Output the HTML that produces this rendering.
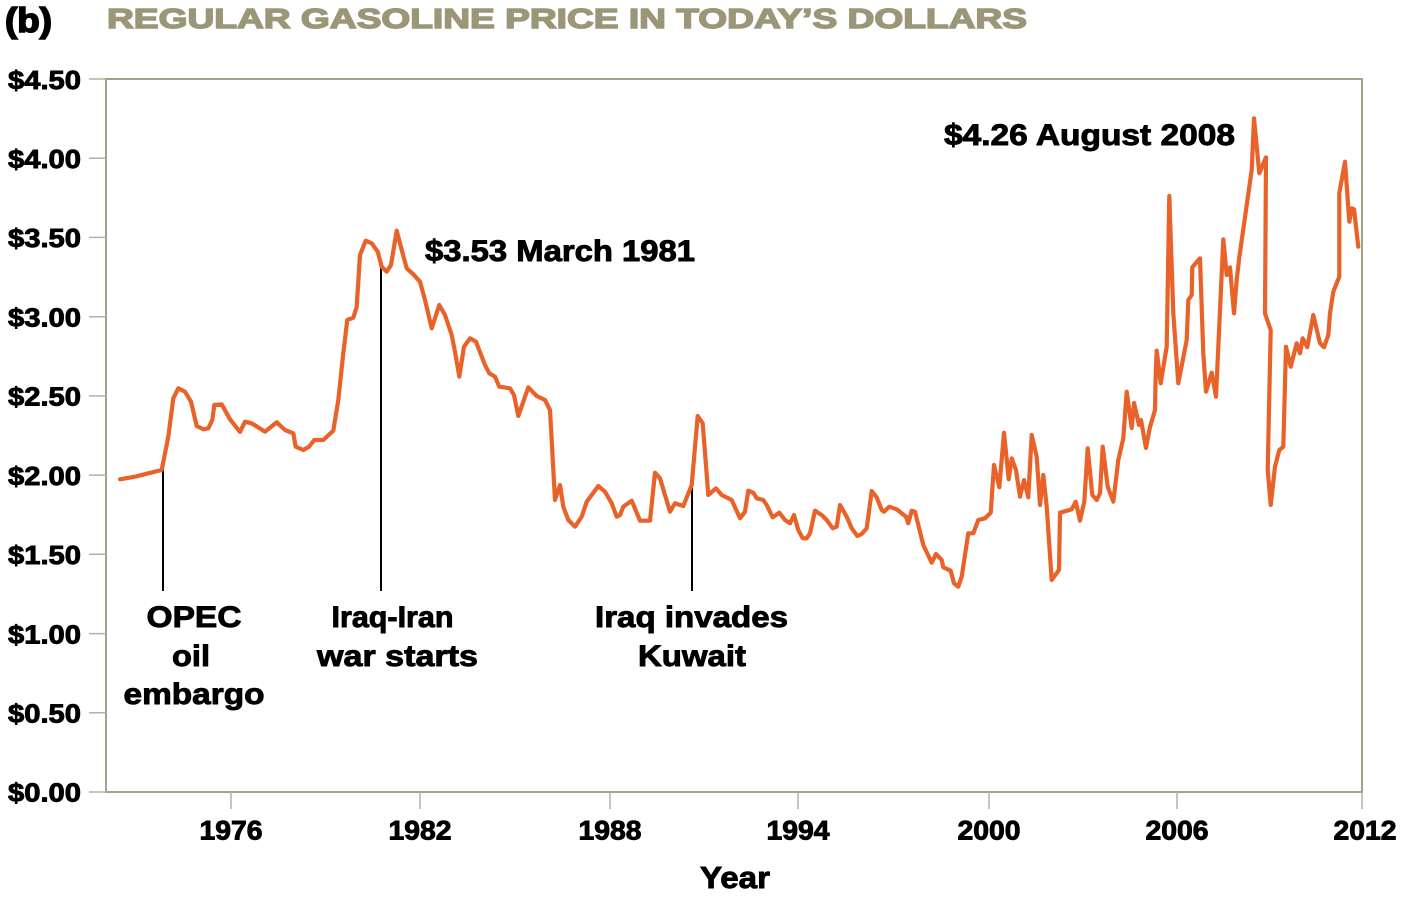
<!DOCTYPE html>
<html>
<head>
<meta charset="utf-8">
<style>
  html, body { margin: 0; padding: 0; background: #ffffff; }
  svg { display: block; }
  text { font-family: "Liberation Sans", Arial, sans-serif; font-weight: bold; fill: #000; }
  .heavy { stroke: #000; stroke-width: 0.9; paint-order: stroke; }
</style>
</head>
<body>
<svg width="1402" height="898" viewBox="0 0 1402 898" xmlns="http://www.w3.org/2000/svg">
  <rect x="0" y="0" width="1402" height="898" fill="#ffffff"/>

  <!-- Header -->
  <text class="heavy" x="5" y="32" font-size="34" style="stroke-width:1.6" textLength="47" lengthAdjust="spacingAndGlyphs">(b)</text>
  <text x="107" y="28" font-size="28" style="fill:#9c9678;stroke:#9c9678;stroke-width:1.4" textLength="920" lengthAdjust="spacingAndGlyphs">REGULAR GASOLINE PRICE IN TODAY’S DOLLARS</text>

  <!-- Axis frame -->
  <rect x="106" y="79" width="1256" height="713" fill="none" stroke="#a3a28b" stroke-width="2"/>

  <!-- Y ticks -->
  <g stroke="#b4b3a2" stroke-width="1.5">
    <line x1="89" y1="79" x2="106" y2="79"/>
    <line x1="89" y1="158.2" x2="106" y2="158.2"/>
    <line x1="89" y1="237.4" x2="106" y2="237.4"/>
    <line x1="89" y1="316.7" x2="106" y2="316.7"/>
    <line x1="89" y1="395.9" x2="106" y2="395.9"/>
    <line x1="89" y1="475.1" x2="106" y2="475.1"/>
    <line x1="89" y1="554.3" x2="106" y2="554.3"/>
    <line x1="89" y1="633.6" x2="106" y2="633.6"/>
    <line x1="89" y1="712.8" x2="106" y2="712.8"/>
    <line x1="89" y1="792" x2="106" y2="792"/>
  </g>
  <!-- X ticks -->
  <g stroke="#b4b3a2" stroke-width="1.5">
    <line x1="231" y1="792" x2="231" y2="809"/>
    <line x1="420" y1="792" x2="420" y2="809"/>
    <line x1="610" y1="792" x2="610" y2="809"/>
    <line x1="798" y1="792" x2="798" y2="809"/>
    <line x1="989" y1="792" x2="989" y2="809"/>
    <line x1="1177" y1="792" x2="1177" y2="809"/>
    <line x1="1362" y1="792" x2="1362" y2="809"/>
  </g>

  <!-- Y labels -->
  <g font-size="26" text-anchor="end" class="heavy">
    <text x="81" y="89" textLength="73" lengthAdjust="spacingAndGlyphs">$4.50</text>
    <text x="81" y="168" textLength="73" lengthAdjust="spacingAndGlyphs">$4.00</text>
    <text x="81" y="247" textLength="73" lengthAdjust="spacingAndGlyphs">$3.50</text>
    <text x="81" y="326.5" textLength="73" lengthAdjust="spacingAndGlyphs">$3.00</text>
    <text x="81" y="405.5" textLength="73" lengthAdjust="spacingAndGlyphs">$2.50</text>
    <text x="81" y="485" textLength="73" lengthAdjust="spacingAndGlyphs">$2.00</text>
    <text x="81" y="564" textLength="73" lengthAdjust="spacingAndGlyphs">$1.50</text>
    <text x="81" y="643.5" textLength="73" lengthAdjust="spacingAndGlyphs">$1.00</text>
    <text x="81" y="722.5" textLength="73" lengthAdjust="spacingAndGlyphs">$0.50</text>
    <text x="81" y="801.7" textLength="73" lengthAdjust="spacingAndGlyphs">$0.00</text>
  </g>

  <!-- X labels -->
  <g font-size="26.5" text-anchor="middle" class="heavy">
    <text x="231" y="839.5" textLength="63" lengthAdjust="spacingAndGlyphs">1976</text>
    <text x="420" y="839.5" textLength="63" lengthAdjust="spacingAndGlyphs">1982</text>
    <text x="610" y="839.5" textLength="63" lengthAdjust="spacingAndGlyphs">1988</text>
    <text x="798" y="839.5" textLength="63" lengthAdjust="spacingAndGlyphs">1994</text>
    <text x="989" y="839.5" textLength="63" lengthAdjust="spacingAndGlyphs">2000</text>
    <text x="1177" y="839.5" textLength="63" lengthAdjust="spacingAndGlyphs">2006</text>
    <text x="1365" y="839.5" textLength="63" lengthAdjust="spacingAndGlyphs">2012</text>
  </g>
  <text class="heavy" x="735" y="888" font-size="31" text-anchor="middle" textLength="70" lengthAdjust="spacingAndGlyphs">Year</text>

  <!-- Annotation lines -->
  <g stroke="#000" stroke-width="2">
    <line x1="163" y1="467" x2="163" y2="591"/>
    <line x1="381" y1="266" x2="381" y2="591"/>
    <line x1="692" y1="484" x2="692" y2="591"/>
  </g>

  <!-- Annotation text -->
  <g font-size="30" text-anchor="middle" class="heavy">
    <text x="194" y="627" textLength="95" lengthAdjust="spacingAndGlyphs">OPEC</text>
    <text x="191" y="666" textLength="38" lengthAdjust="spacingAndGlyphs">oil</text>
    <text x="194" y="704" textLength="141" lengthAdjust="spacingAndGlyphs">embargo</text>
    <text x="392.5" y="627" textLength="122" lengthAdjust="spacingAndGlyphs">Iraq-Iran</text>
    <text x="397.5" y="666" textLength="161" lengthAdjust="spacingAndGlyphs">war starts</text>
    <text x="691.5" y="627" textLength="193" lengthAdjust="spacingAndGlyphs">Iraq invades</text>
    <text x="692" y="666" textLength="108" lengthAdjust="spacingAndGlyphs">Kuwait</text>
  </g>
  <text class="heavy" x="425" y="261" font-size="29.5" textLength="270" lengthAdjust="spacingAndGlyphs">$3.53 March 1981</text>
  <text class="heavy" x="944" y="145" font-size="29.5" textLength="291" lengthAdjust="spacingAndGlyphs">$4.26 August 2008</text>

  <!-- Price series -->
  <polyline fill="none" stroke="#e8622a" stroke-width="4.2" stroke-linejoin="round" stroke-linecap="round"
    points="120,479.3 135,476.7 148.3,473.3 161.7,470 168.3,436.7 173.3,398.3 178.3,388.3 185,391.7 191,401.7 196.7,426 203.3,429.3 208.3,428.3 212.3,420 214.3,405 221.7,404.3 230,419.3 240,432 245,421.7 251.7,423.3 265,431.7 276.7,422.3 285,430 293.3,433.3 295.7,446.7 303.3,450 309,446.7 314.3,440 323.3,440 333.3,430.7 338.3,400 343.3,353.3 347.3,320 353.3,317.7 356.7,306.7 360,255 365.7,240.7 371.7,243.3 377.7,251.7 381.7,266.7 386.7,271.7 391,265 396.7,230.7 401.7,250 406.7,268.3 413.3,274.3 420,281.7 425,300 431.7,328.3 439.3,305 445,315 451.7,335 455,351.7 459.3,376.7 464,346.7 470,338.3 476,341.7 485,365 489.3,373.3 495,376.7 499.3,386.7 510,388.3 514,395 518.3,416 528.3,387.3 536.7,396 545,400 550,410 555,500 560,485 563.3,506.7 568.3,520 575,526.7 581.7,516.7 586.7,501.7 598.3,486 605,491.7 611.7,503.3 616.7,516.7 620,515 623.3,506.7 631.7,500.7 640,520.7 650,520.7 655,472.7 660,478.3 670,511.7 675,503.3 683.3,506 691.7,485 697.7,416 702.7,423.3 708.3,495 716,488.3 721.7,495 731.7,500 740,518.3 745,511.7 748.3,490.7 753.3,492.7 756.7,498.3 763.3,500 766.7,505 772.7,517.3 779.3,512.7 785,520 790,523.3 794,515 798.3,530 802.7,538.3 806.7,538.3 810,533.3 815,510.7 821.7,515 826.7,520 832.7,528.3 836.7,526.7 840,505 846.7,516.7 851.7,528.3 857.3,536 861.7,534 866.7,528.3 871.7,491 876.7,497.3 881.7,510 884,511.7 889.3,506.7 896.7,509.3 906,516.7 908.3,523.3 911.7,510.7 915,511.7 923.3,545 931.7,562.7 936,554 941.7,560 943.3,567.3 950.7,570.7 954,583.3 958.3,586.7 961.7,576.7 968.3,533.3 973.3,533.3 978.3,520 985,518.3 990.7,512.7 994,465 999.3,487.3 1004,432.7 1008.7,479.3 1011.7,458.3 1016,470 1020,496.7 1024,480 1028.3,497.3 1031.7,435 1036.7,456.7 1040,505 1043.3,475 1046.7,506.7 1051.7,580 1059,570 1060,512.7 1071.7,509.3 1075.7,501.7 1080,520.7 1084.3,501.7 1087.7,448.3 1092.3,495 1096.7,500 1100,493.3 1102.7,446.7 1107.7,486.7 1113.3,501.7 1118.3,460 1123.3,438.3 1126.7,391.7 1131.7,428 1134,403 1139,425 1141,420 1146,448 1150,427 1155,410 1155.7,373.3 1156.7,350.7 1160.7,383.3 1166.7,346.7 1169.3,196 1173.3,313.3 1178.3,383.3 1186.7,340 1188.3,300 1191.7,295 1192.3,267.3 1200,258.3 1203.3,353.3 1206,391.7 1211.7,372.7 1216,396.7 1223.3,239.3 1226.7,275 1230,267.3 1234,313.3 1236.7,280 1239.3,257.3 1251.7,170 1254,118.3 1259.3,173.3 1266,157.3 1265,313.3 1270.7,330 1267.7,470 1270.7,505 1275,466.7 1279.3,450 1283.3,446.7 1286,346.7 1290.7,366.7 1296.7,343.3 1300,353.3 1302.7,338.3 1307.3,347.3 1313.3,315 1320,343.3 1324,347.3 1328.3,335 1330,313.3 1333.3,291.7 1339.3,276.7 1339.3,193.3 1345,161.7 1349.3,221.7 1351.7,208.3 1354,209.3 1358.3,246.7"/>
</svg>
</body>
</html>
